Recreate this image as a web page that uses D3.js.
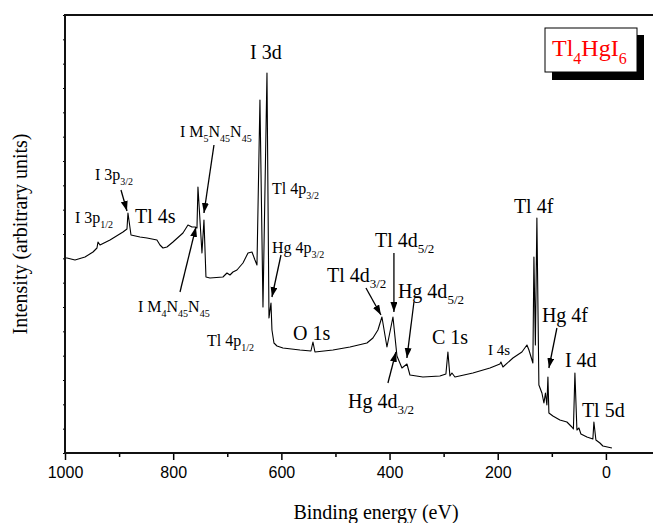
<!DOCTYPE html>
<html>
<head>
<meta charset="utf-8">
<script src="https://cdn.jsdelivr.net/npm/d3@7/dist/d3.min.js"></script>
<style>
  body { margin: 0; background: #fff; }
  svg { display: block; }
</style>
</head>
<body>
<svg width="653" height="523"></svg>
<script>
// XPS survey spectrum of Tl4HgI6
const energy = [1000, 996.3, 981.5, 963, 948.2, 940.9, 939, 935.3, 916.8, 892.8, 885.4, 883.6, 878,
  861.4, 848.4, 830, 824.4, 818.9, 811.5, 800.4, 781.9, 772.7, 765.3, 759.7, 756, 754.2, 746.8,
  743.1, 739.4, 732, 708, 700.6, 695, 689.5, 682.1, 671, 661.7, 654.3, 648.8, 645.1, 639.6, 634,
  626.6, 622.9, 619.2, 617.4, 613.7, 608.1, 597.1, 565.6, 545.3, 541.6, 537.9, 504.6, 473.2,
  441.8, 430.7, 421.5, 414.1, 404.8, 393.7, 386.3, 377.1, 367.8, 362.3, 338.3, 306.9, 295.8,
  292.1, 288.4, 284.7, 279.1, 245.9, 214.4, 196, 194.1, 190.4, 171.9, 155.3, 146, 142.3, 135,
  133.1, 130.4, 127.6, 123.9, 118.3, 114.6, 111.8, 109.1, 107.2, 105.4, 98, 85.1, 72.1, 62.9,
  60.1, 57.3, 53.6, 49.9, 46.2, 35.1, 24.1, 22.2, 18.5, 11.1, 5.6, -11.1];
const intensity = [195, 195, 193, 196, 201, 205, 211, 208, 213, 221, 224, 240, 218,
  216, 215, 213, 208, 205, 206, 211, 220, 228, 226, 226, 225, 266, 200,
  233, 176, 175, 176, 180, 178, 181, 183, 190, 200, 201, 193, 188, 353, 146,
  380, 135, 150, 123, 110, 107, 105, 103, 102, 111, 101, 103, 106,
  110, 115, 123, 136, 106, 136, 97, 85, 89, 78, 76, 77, 79,
  101, 77, 80, 76, 80, 85, 89, 91, 86, 95, 101, 108, 103, 90,
  196, 108, 235, 68, 60, 50, 60, 48, 76, 40, 37, 33, 31, 26,
  24, 80, 23, 25, 19, 16, 14, 31, 13, 10, 7, 5];

const majorTicks = [1000, 800, 600, 400, 200, 0];
const minorTicks = [900, 700, 500, 300, 100];

// peak labels: [text, subscript, text, subscript ...], anchored at (eV, intensity)
const labels = [
  { parts: ["I 3d"], be: 658.0, i: 394, size: 20 },
  { parts: ["I M", "5", "N", "45", "N", "45"], be: 787.4, i: 316, size: 16 },
  { parts: ["I 3p", "3/2"], be: 944.5, i: 273, size: 16 },
  { parts: ["I 3p", "1/2"], be: 981.5, i: 230, size: 16 },
  { parts: ["Tl 4s"], be: 870.6, i: 230, size: 20 },
  { parts: ["Tl 4p", "3/2"], be: 617.4, i: 259, size: 16 },
  { parts: ["Hg 4p", "3/2"], be: 617.4, i: 200, size: 16 },
  { parts: ["Tl 4p", "1/2"], be: 737.5, i: 107, size: 16 },
  { parts: ["I M", "4", "N", "45", "N", "45"], be: 865.1, i: 141, size: 16 },
  { parts: ["O 1s"], be: 578.6, i: 113, size: 20 },
  { parts: ["Tl 4d", "3/2"], be: 515.7, i: 171, size: 20 },
  { parts: ["Tl 4d", "5/2"], be: 427.0, i: 206, size: 20 },
  { parts: ["Hg 4d", "5/2"], be: 384.5, i: 155, size: 20 },
  { parts: ["Hg 4d", "3/2"], be: 476.9, i: 45, size: 20 },
  { parts: ["C 1s"], be: 321.6, i: 109, size: 20 },
  { parts: ["I 4s"], be: 218.1, i: 98, size: 15 },
  { parts: ["Tl 4f"], be: 170.1, i: 240, size: 20 },
  { parts: ["Hg 4f"], be: 118.3, i: 131, size: 20 },
  { parts: ["I 4d"], be: 75.8, i: 86, size: 20 },
  { parts: ["Tl 5d"], be: 44.4, i: 36, size: 20 }
];

// arrows from label to peak: [eV0, I0, eV1, I1]
const arrows = [
  [896.5, 263, 885.4, 242],
  [724.6, 308, 743.1, 240],
  [787.4, 161, 757.9, 226],
  [600.7, 198, 617.4, 156],
  [443.6, 165, 415.9, 138],
  [391.9, 200, 391.9, 141],
  [354.9, 151, 367.9, 95],
  [403.0, 70, 388.2, 101],
  [90.6, 125, 105.4, 85]
];

const margin = { left: 65, top: 15, right: 660, bottom: 453 };

const svg = d3.select('svg');

const x = d3.scaleLinear().domain([1000, -100]).range([margin.left, margin.right]);
const y = d3.scaleLinear().domain([0, 438]).range([margin.bottom, margin.top]);

svg.append('defs').append('marker')
    .attr('id', 'head')
    .attr('markerUnits', 'userSpaceOnUse')
    .attr('markerWidth', 11)
    .attr('markerHeight', 8)
    .attr('refX', 10)
    .attr('refY', 3.5)
    .attr('orient', 'auto')
    .append('path')
    .attr('d', 'M0,0 L10,3.5 L0,7 Z')
    .attr('fill', '#000');

// spectrum
const line = d3.line()
    .x((d, i) => x(energy[i]))
    .y((d) => y(d));

svg.append('path')
    .datum(intensity)
    .attr('d', line)
    .attr('fill', 'none')
    .attr('stroke', '#000')
    .attr('stroke-width', 1.1)
    .attr('stroke-linejoin', 'round');

// axes
const xMajor = svg.append('g')
    .attr('transform', `translate(0,${margin.bottom})`)
    .call(d3.axisBottom(x).tickValues(majorTicks).tickSize(7).tickPadding(7).tickFormat(d3.format('d')));
xMajor.select('.domain').remove();
xMajor.selectAll('line').attr('stroke-width', 1.5);
xMajor.selectAll('text')
    .attr('font-family', '"Liberation Sans", Arial, sans-serif')
    .attr('font-size', 16)
    .attr('fill', '#000');

const xMinor = svg.append('g')
    .attr('transform', `translate(0,${margin.bottom})`)
    .call(d3.axisBottom(x).tickValues(minorTicks).tickSize(4).tickFormat(''));
xMinor.select('.domain').remove();
xMinor.selectAll('line').attr('stroke-width', 1.5);

const yAxis = svg.append('g')
    .attr('transform', `translate(${margin.left},0)`)
    .call(d3.axisLeft(y).tickValues(d3.range(0, 439, 438 / 18)).tickSize(2).tickFormat(''));
yAxis.select('.domain').remove();

svg.append('rect')
    .attr('x', margin.left)
    .attr('y', margin.top)
    .attr('width', margin.right - margin.left)
    .attr('height', margin.bottom - margin.top)
    .attr('fill', 'none')
    .attr('stroke', '#111')
    .attr('stroke-width', 2);

// axis titles
svg.append('text')
    .attr('x', 376)
    .attr('y', 519)
    .attr('text-anchor', 'middle')
    .attr('font-family', '"Liberation Serif", "Times New Roman", serif')
    .attr('font-size', 20)
    .text('Binding energy (eV)');

svg.append('text')
    .attr('transform', 'translate(27,234) rotate(-90)')
    .attr('text-anchor', 'middle')
    .attr('font-family', '"Liberation Serif", "Times New Roman", serif')
    .attr('font-size', 20)
    .text('Intensity (arbitrary units)');

// peak labels
labels.forEach((lab) => {
    const t = svg.append('text')
        .attr('x', x(lab.be))
        .attr('y', y(lab.i))
        .attr('font-family', '"Liberation Serif", "Times New Roman", serif')
        .attr('font-size', lab.size);
    const shift = Math.round(lab.size * 0.3);
    lab.parts.forEach((p, k) => {
        const sp = t.append('tspan').text(p);
        if (k % 2 == 1) {
            sp.attr('font-size', Math.round(lab.size * 0.65)).attr('dy', shift);
        } else if (k > 0) {
            sp.attr('dy', -shift);
        }
    });
});

svg.selectAll('.arrow')
    .data(arrows)
    .enter()
    .append('line')
    .classed('arrow', true)
    .attr('x1', (d) => x(d[0]))
    .attr('y1', (d) => y(d[1]))
    .attr('x2', (d) => x(d[2]))
    .attr('y2', (d) => y(d[3]))
    .attr('stroke', '#000')
    .attr('stroke-width', 1.3)
    .attr('marker-end', 'url(#head)');

// sample legend box with drop shadow
svg.append('rect')
    .attr('x', 552).attr('y', 35).attr('width', 92).attr('height', 45)
    .attr('fill', '#000');
svg.append('rect')
    .attr('x', 545).attr('y', 28).attr('width', 92).attr('height', 44)
    .attr('fill', '#fff').attr('stroke', '#000').attr('stroke-width', 1);

const legend = svg.append('text')
    .attr('x', 552)
    .attr('y', 56)
    .attr('font-family', '"Liberation Serif", "Times New Roman", serif')
    .attr('font-size', 24)
    .attr('fill', '#ff0000');
['Tl', '4', 'HgI', '6'].forEach((p, k) => {
    const sp = legend.append('tspan').text(p);
    if (k % 2 == 1) sp.attr('font-size', 16).attr('dy', 8);
    else if (k > 0) sp.attr('dy', -8);
});
</script>
</body>
</html>
